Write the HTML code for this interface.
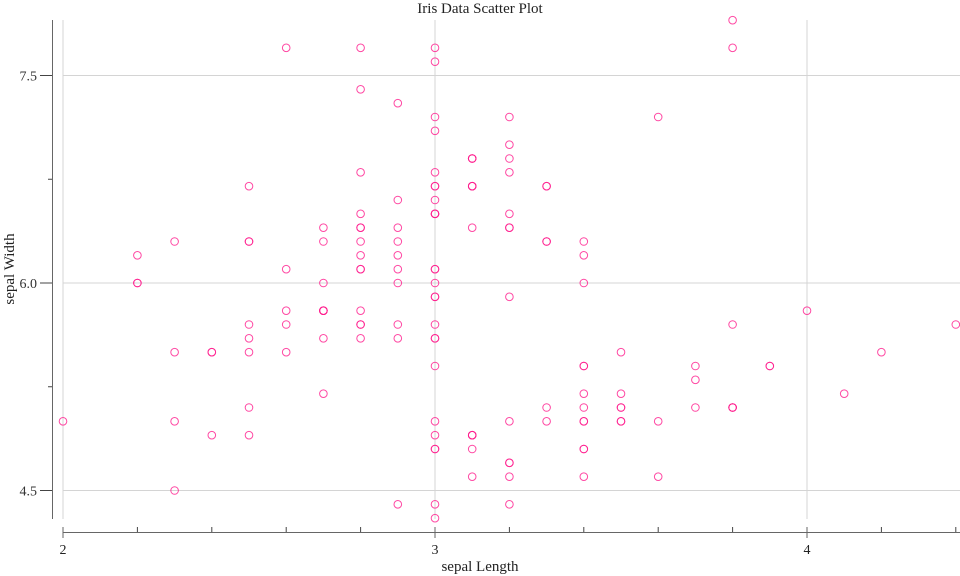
<!DOCTYPE html>
<html><head><meta charset="utf-8"><style>
body{margin:0;background:#fff}
svg{display:block;font-family:"Liberation Serif",serif}
</style></head><body>
<svg id="chart" width="960" height="576">
<text x="480" y="13" text-anchor="middle" font-size="15" fill="#222">Iris Data Scatter Plot</text>
<g id="grid"></g>
<g id="axes"></g>
<g id="points"></g>
<text x="480" y="571" text-anchor="middle" font-size="15" fill="#222">sepal Length</text>
<text transform="translate(14,269) rotate(-90)" text-anchor="middle" font-size="15" fill="#222">sepal Width</text>
</svg>
<script>
const sepalWidth=[3.5,3.0,3.2,3.1,3.6,3.9,3.4,3.4,2.9,3.1,3.7,3.4,3.0,3.0,4.0,4.4,3.9,3.5,3.8,3.8,3.4,3.7,3.6,3.3,3.4,3.0,3.4,3.5,3.4,3.2,3.1,3.4,4.1,4.2,3.1,3.2,3.5,3.1,3.0,3.4,3.5,2.3,3.2,3.5,3.8,3.0,3.8,3.2,3.7,3.3,
3.2,3.2,3.1,2.3,2.8,2.8,3.3,2.4,2.9,2.7,2.0,3.0,2.2,2.9,2.9,3.1,3.0,2.7,2.2,2.5,3.2,2.8,2.5,2.8,2.9,3.0,2.8,3.0,2.9,2.6,2.4,2.4,2.7,2.7,3.0,3.4,3.1,2.3,3.0,2.5,2.6,3.0,2.6,2.3,2.7,3.0,2.9,2.9,2.5,2.8,
3.3,2.7,3.0,2.9,3.0,3.0,2.5,2.9,2.5,3.6,3.2,2.7,3.0,2.5,2.8,3.2,3.0,3.8,2.6,2.2,3.2,2.8,2.8,2.7,3.3,3.2,2.8,3.0,2.8,3.0,2.8,3.8,2.8,2.8,2.6,3.0,3.4,3.1,3.0,3.1,3.1,3.1,2.7,3.2,3.3,3.0,2.5,3.0,3.4,3.0];
const sepalLength=[5.1,4.9,4.7,4.6,5.0,5.4,4.6,5.0,4.4,4.9,5.4,4.8,4.8,4.3,5.8,5.7,5.4,5.1,5.7,5.1,5.4,5.1,4.6,5.1,4.8,5.0,5.0,5.2,5.2,4.7,4.8,5.4,5.2,5.5,4.9,5.0,5.5,4.9,4.4,5.1,5.0,4.5,4.4,5.0,5.1,4.8,5.1,4.6,5.3,5.0,
7.0,6.4,6.9,5.5,6.5,5.7,6.3,4.9,6.6,5.2,5.0,5.9,6.0,6.1,5.6,6.7,5.6,5.8,6.2,5.6,5.9,6.1,6.3,6.1,6.4,6.6,6.8,6.7,6.0,5.7,5.5,5.5,5.8,6.0,5.4,6.0,6.7,6.3,5.6,5.5,5.5,6.1,5.8,5.0,5.6,5.7,5.7,6.2,5.1,5.7,
6.3,5.8,7.1,6.3,6.5,7.6,4.9,7.3,6.7,7.2,6.5,6.4,6.8,5.7,5.8,6.4,6.5,7.7,7.7,6.0,6.9,5.6,7.7,6.3,6.7,7.2,6.2,6.1,6.4,7.2,7.4,7.9,6.4,6.3,6.1,7.7,6.3,6.4,6.0,6.9,6.7,6.9,5.8,6.8,6.7,6.7,6.3,6.5,6.2,5.9];
const xMajorTicks=[2,3,4];
const xMinorTicks=[2.2,2.4,2.6,2.8,3.2,3.4,3.6,3.8,4.2,4.4];
const yMajorTicks=[4.5,6.0,7.5];
const yMinorTicks=[5.25,6.75];
const NS="http://www.w3.org/2000/svg";
const xs=v=>63+(v-2)*372;
const ys=v=>283-(v-6)*138.33;
function mk(tag,attrs,parent){const e=document.createElementNS(NS,tag);for(const k in attrs)e.setAttribute(k,attrs[k]);parent.appendChild(e);return e;}
const grid=document.getElementById('grid'),axes=document.getElementById('axes'),pts=document.getElementById('points');
xMajorTicks.forEach(v=>{const l=mk('line',{x1:xs(v),x2:xs(v),y1:20,y2:519,stroke:'#d4d4d4'},grid);

});
yMajorTicks.forEach(v=>{const l=mk('line',{x1:63,x2:960,y1:ys(v),y2:ys(v),stroke:'#d4d4d4'},grid);

});
mk('line',{x1:52.5,x2:52.5,y1:20,y2:519,stroke:'#666'},axes);
mk('line',{x1:63,x2:960,y1:532.5,y2:532.5,stroke:'#666'},axes);
yMajorTicks.forEach(v=>{mk('line',{x1:40,x2:52,y1:ys(v),y2:ys(v),stroke:'#444'},axes);
const t=mk('text',{x:37,y:ys(v)+5,'text-anchor':'end','font-size':14,fill:'#333'},axes);t.textContent=v.toFixed(1);

});
yMinorTicks.forEach(v=>mk('line',{x1:48,x2:52,y1:ys(v),y2:ys(v),stroke:'#444'},axes));
xMajorTicks.forEach(v=>{mk('line',{x1:xs(v),x2:xs(v),y1:527,y2:538,stroke:'#666'},axes);
const t=mk('text',{x:xs(v),y:554,'text-anchor':'middle','font-size':14,fill:'#222'},axes);t.textContent=String(v);

});
xMinorTicks.forEach(v=>mk('line',{x1:xs(v),x2:xs(v),y1:527,y2:532,stroke:'#444'},axes));
sepalWidth.forEach((w,i)=>{const c=mk('circle',{cx:xs(w),cy:ys(sepalLength[i]),r:3.8,fill:'none',stroke:'#ff1a8c','stroke-opacity':0.8,'stroke-width':1},pts);

});
</script>
</body></html>
